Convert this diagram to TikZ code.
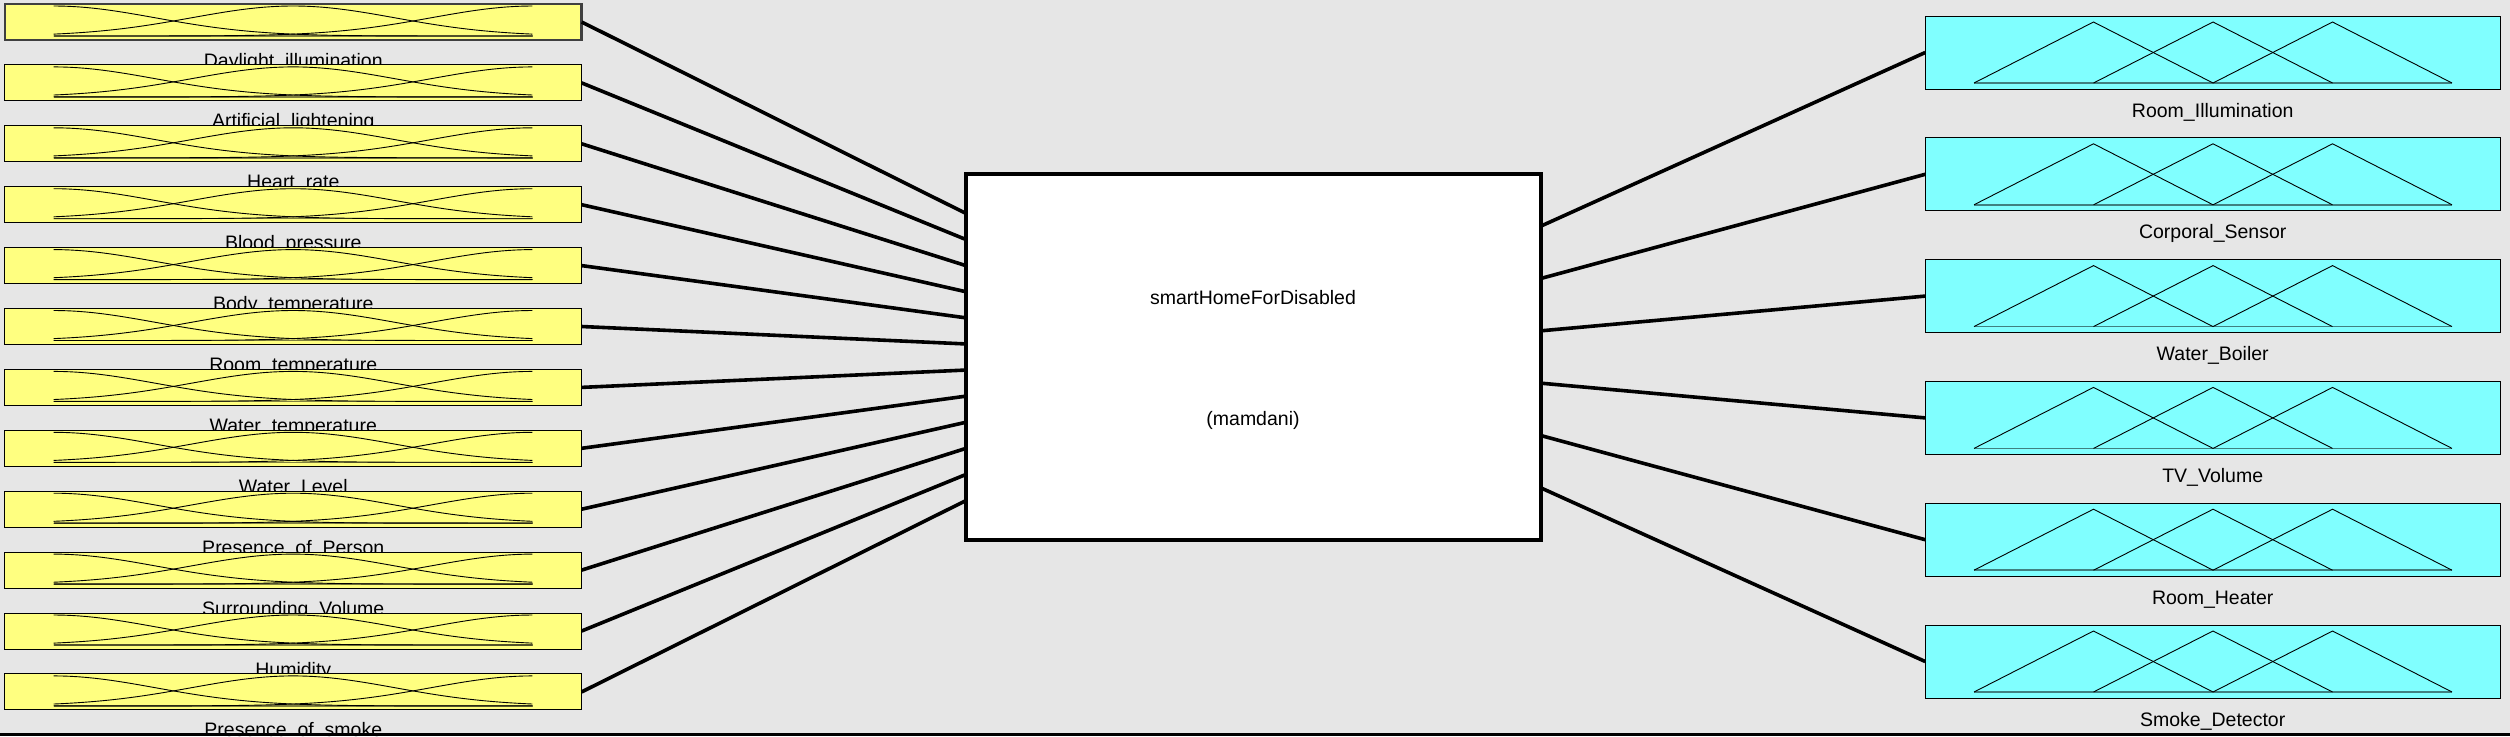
\documentclass[tikz,border=0pt]{standalone}
\usepackage{fontspec}
\setmainfont{Liberation Sans}
\usepackage{tikz}
\usetikzlibrary{calc}
\definecolor{bggray}{RGB}{230,230,230}
\definecolor{inyellow}{RGB}{255,255,128}
\definecolor{outcyan}{RGB}{128,255,255}
\definecolor{inbase}{RGB}{128,128,64}
\definecolor{outbase}{RGB}{64,128,128}
\tikzset{inbox/.style={rectangle,draw,fill=inyellow,line width=1pt,minimum width=576.7pt,minimum height=36pt,inner sep=0pt,outer sep=0pt},
         outbox/.style={rectangle,draw,fill=outcyan,line width=1pt,minimum width=575pt,minimum height=73pt,inner sep=0pt,outer sep=0pt},
         fisbox/.style={rectangle,draw,fill=white,line width=4pt,minimum width=575pt,minimum height=366pt,outer sep=0pt},
         varlabel/.style={anchor=base,inner sep=0pt,font=\fontsize{19.5}{23}\selectfont},
         fistext/.style={inner sep=0pt,font=\fontsize{19.5}{23}\selectfont},
         mfline/.style={line width=0.9pt},
         link/.style={line width=3.6pt}}

\begin{document}
\begin{tikzpicture}[x=1pt,y=-1pt]
    \fill[bggray] (0,0) rectangle (2510,736);
    \useasboundingbox (0,0) rectangle (2510,736);
    % Input variables with three Gaussian MFs each
    \foreach \i/\name in {1/Daylight\_illumination, 2/Artificial\_lightening, 3/Heart\_rate, 4/Blood\_pressure,
                          5/Body\_temperature, 6/Room\_temperature, 7/Water\_temperature, 8/Water\_Level,
                          9/Presence\_of\_Person, 10/Surrounding\_Volume, 11/Humidity, 12/Presence\_of\_smoke}{
        \pgfmathsetmacro\ty{4+60.9*(\i-1)}
        \node (in\i) [inbox] at (293.3,\ty+18) {};
        \draw[inbase,line width=1.5pt] (53.6,\ty+32) -- (532.7,\ty+32);
        \draw[mfline] plot[domain=0:1,samples=60] ({53.6+479.1*\x},{\ty+2+30*(1-exp(0-\x*\x/0.09014))});
        \draw[mfline] plot[domain=0:1,samples=60] ({53.6+479.1*\x},{\ty+2+30*(1-exp(0-(\x-0.5)*(\x-0.5)/0.09014))});
        \draw[mfline] plot[domain=0:1,samples=60] ({53.6+479.1*\x},{\ty+2+30*(1-exp(0-(\x-1)*(\x-1)/0.09014))});
        \node (lbl\i) [varlabel] at (293.3,\ty+63) {\name};
    }
    % Selected variable
    \draw[line width=2.5pt,black!75] (in1.south west) rectangle (in1.north east);
    % Output variables with three triangular MFs each
    \foreach \i/\name in {1/Room\_Illumination, 2/Corporal\_Sensor, 3/Water\_Boiler,
                          4/TV\_Volume, 5/Room\_Heater, 6/Smoke\_Detector}{
        \pgfmathsetmacro\ty{16+121.8*(\i-1)}
        \node (out\i) [outbox] at (2212.7,\ty+36.5) {};
        \draw[outbase,line width=1.5pt] (1974,\ty+67) -- (2452,\ty+67);
        \draw[mfline] (1974,\ty+67) -- (2093.5,\ty+6) -- (2213,\ty+67);
        \draw[mfline] (2093.5,\ty+67) -- (2213,\ty+6) -- (2332.5,\ty+67);
        \draw[mfline] (2213,\ty+67) -- (2332.5,\ty+6) -- (2452,\ty+67);
        \node (olbl\i) [varlabel] at (2212.7,\ty+101) {\name};
    }
    % Inference system
    \node (fis) [fisbox] at (1253,357) {};
    \node (fisname) [fistext] at (1253,298) {smartHomeForDisabled};
    \node (fistype) [fistext] at (1253,420) {(mamdani)};
    % Connectors
    \foreach \i in {1,...,12}{
        \coordinate (fisin\i) at ($(fis.north west)!{(\i+0.5)/14}!(fis.south west)$);
        \draw[link] (in\i.east) -- (fisin\i);
    }
    \foreach \i in {1,...,6}{
        \coordinate (fisout\i) at ($(fis.north east)!{\i/7}!(fis.south east)$);
        \draw[link] (fisout\i) -- (out\i.west);
    }
    \fill[black] (0,733) rectangle (2510,736);
\end{tikzpicture}
\end{document}
